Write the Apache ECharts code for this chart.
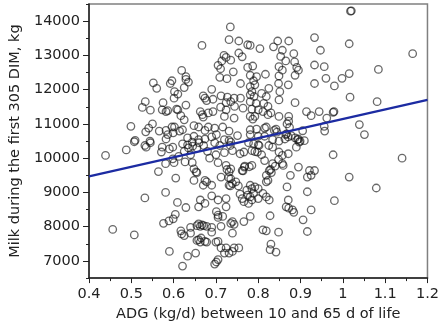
<!DOCTYPE html>
<html><head><meta charset="utf-8">
<script src="https://cdn.jsdelivr.net/npm/echarts@6/dist/echarts.min.js"></script>
<style>html,body{margin:0;padding:0;background:#fff}#c{width:442px;height:327px}</style>
</head><body><div id="c"></div>
<script>
// ADG (kg/d) values and Milk (kg) values
const adg = [
0.439,0.456,0.507,0.532,0.564,0.488,0.507,0.499,0.534,0.541,0.550,0.532,0.545,0.526,0.533,0.545,0.552,0.560,0.592,0.596,
0.601,0.575,0.573,0.582,0.586,0.607,0.566,0.582,0.586,0.596,0.599,0.509,0.544,0.582,0.535,0.573,0.571,0.590,0.598,0.581,
0.601,0.581,0.605,0.609,0.576,0.589,0.599,0.604,0.590,0.619,0.629,0.635,0.625,0.610,0.629,
0.734,0.667,0.731,0.754,0.775,0.719,0.724,0.714,0.705,0.711,0.735,0.754,0.762,0.741,0.709,0.726,0.775,0.787,0.758,0.629,
0.602,0.610,0.617,0.625,0.690,0.670,0.674,0.678,0.693,0.712,0.727,0.743,0.758,0.781,0.724,0.735,0.711,0.724,0.744,0.764,
0.785,0.663,0.668,0.682,0.693,0.670,0.720,0.743,0.781,0.787,0.648,0.659,0.674,0.682,0.697,0.716,0.701,0.602,0.614,0.621,
0.633,0.648,0.659,0.674,0.690,0.731,0.751,0.781,0.720,0.731,
0.933,0.947,0.846,0.872,0.836,0.857,0.853,0.884,0.804,0.781,0.865,0.886,0.849,0.857,0.891,0.895,0.887,0.933,0.956,0.960,
0.933,0.817,0.796,0.781,0.789,0.792,0.849,0.848,0.871,0.851,0.849,0.825,0.808,0.819,0.813,0.823,0.781,0.785,0.790,0.781,
0.795,0.800,0.811,0.823,0.830,0.792,0.887,0.849,0.872,0.872,0.868,0.914,0.925,0.944,0.962,0.796,0.815,0.819,0.838,0.842,
0.781,0.800,0.815,0.865,0.871,0.887,0.893,0.899,0.956,0.957,0.834,0.849,
1.018,1.020,1.015,1.165,1.084,1.015,0.998,0.980,1.017,1.081,0.979,0.977,1.039,1.051,0.977,1.140,1.015,1.079,0.980,
0.621,0.633,0.644,0.671,0.697,0.709,0.735,0.777,0.598,0.627,0.644,0.648,0.653,0.648,0.705,0.720,0.739,0.766,0.785,0.724,
0.726,0.731,0.735,0.762,0.767,0.712,0.735,0.739,0.731,0.747,0.674,0.670,0.690,0.678,0.773,0.785,0.762,0.775,0.785,0.777,
0.766,0.690,0.705,0.724,0.663,0.674,0.629,0.659,0.724,0.701,0.705,0.705,0.716,0.781,0.766,0.739,0.735,0.743,0.712,0.690,
0.671,0.663,0.655,0.640,0.617,0.640,0.739,0.625,0.674,0.659,0.665,0.705,0.712,0.724,0.731,0.743,0.754,0.739,0.720,0.652,
0.633,0.701,0.697,0.705,0.621,
0.789,0.800,0.792,0.808,0.815,0.834,0.849,0.857,0.848,0.857,0.834,0.826,0.819,0.823,0.819,0.785,0.895,0.876,0.921,0.933,
0.925,0.916,0.781,0.792,0.800,0.789,0.781,0.800,0.811,0.819,0.826,0.868,0.916,0.871,0.866,0.872,0.881,0.884,0.925,0.828,
0.906,0.916,0.811,0.819,0.848,0.830,0.828,0.842,
0.730,0.734,0.753,0.757,0.831,0.829,0.840,0.859,0.768,0.779,0.764,
0.655,0.619,0.659,0.667,0.678,0.690,0.655,0.663,0.678,0.700,
0.905,0.895,0.909,0.874,0.878,0.867,0.863,0.844,0.825,0.802,0.798,0.757,0.734,0.871,0.890,0.897,
0.635,0.645,0.655,0.660,0.625,0.612,0.640,0.680,0.700,0.685
];
const milk = [
10080,7920,7760,8840,9610,10240,10480,10930,10770,10880,11000,10370,10450,11480,11650,11400,12200,12040,12180,12260,
11750,11620,11410,11360,11390,11430,10790,10810,10690,10910,10740,10520,10500,10560,10320,10320,10180,10270,10320,9840,
9870,9000,9420,8710,8100,8170,8230,8360,7280,12560,12380,12220,12060,11870,11550,
13830,13290,13460,13420,13310,13000,12940,12840,12710,12610,12860,13070,12960,12520,12360,12320,12650,12690,12180,12300,
11940,11410,11240,11120,12010,11820,11750,11680,11720,11820,11780,11750,11750,11850,11620,11650,11490,11410,11510,11460,
11430,11360,11270,11320,11360,11200,11220,11170,11220,11140,10950,10910,10810,10910,10880,10910,10690,10910,10790,10830,
10590,10640,10540,10560,10620,10790,10660,10830,10540,10520,
13520,13150,13420,13420,13250,13150,12970,13050,13200,13290,12840,12810,12670,12570,12650,12570,12420,12720,12670,12330,
12180,12450,12380,12420,12260,12140,12400,12180,12140,11940,11700,12040,11890,11800,11600,11510,12090,11940,11800,11650,
11600,11410,11360,11270,11320,11220,11620,11220,11220,11080,11000,11360,11240,11360,11170,10850,10880,10910,10810,10850,
10690,10640,10640,10690,10620,10590,10540,10500,10930,10790,10540,10500,
14290,14300,13340,13050,12590,12470,12330,12110,11780,11650,11360,11340,10980,10690,10100,10000,9450,9130,8760,
10420,10390,10470,10370,10450,10370,10470,10450,9980,9890,9870,9690,9600,9350,9870,10160,10220,10180,10220,9790,
9670,9600,9690,9640,9740,9450,9400,9260,9210,9310,9350,9210,9210,9310,9070,9110,8820,8920,8780,8680,
8730,8900,8780,8820,8780,8680,8560,8580,8580,8440,8340,8270,8300,8300,8150,8150,8100,8070,8010,7980,
8030,8010,8030,7980,7880,7810,7810,7740,7570,7620,7670,7570,7380,7380,7230,7380,7380,7280,7230,7230,
7140,6970,6910,7040,6850,
10420,10390,10190,10100,9930,10320,10180,10080,9960,9840,9840,9640,9500,9350,9310,9790,9740,9500,9640,9640,
9500,9450,9210,9160,9110,8970,8870,8820,8970,8870,8780,9160,9020,8780,8580,8540,8490,8420,8490,8320,
8200,7860,7910,7880,7840,7490,7330,7260,
9430,9190,9190,8950,9580,9670,9770,9790,9770,9750,9630,
9580,7790,8080,8050,8010,7840,7600,7550,7550,7550,
10800,10560,10510,10900,10660,10710,10560,10760,10370,10370,10180,10130,10370,10130,10320,10470,
10300,10350,10300,10450,10200,10050,10100,10200,10100,10000
];
// regression line end points
const fitX = [0.4, 1.2];
const fitY = [9470, 11700];
const xTicks = [0.4,0.5,0.6,0.7,0.8,0.9,1,1.1,1.2];
const yTicks = [7000,8000,9000,10000,11000,12000,13000,14000];

const pts = adg.map((x,i)=>[x, milk[i]]);
const fit = fitX.map((x,i)=>[x, fitY[i]]);
const FONT = '"DejaVu Sans", Verdana, sans-serif';
const chart = echarts.init(document.getElementById('c'), null, {renderer:'canvas'});
chart.setOption({
  animation:false,
  backgroundColor:'#fff',
  grid:{left:78, right:13, top:4, bottom:46, show:true, borderColor:'#808080', borderWidth:1.5, containLabel:false},
  xAxis:{
    type:'value', min:0.4, max:1.2, interval:0.1,
    name:'ADG (kg/d) between 10 and 65 d of life', nameLocation:'middle', nameGap:27,
    nameTextStyle:{fontFamily:FONT, fontSize:14.5, color:'#222'},
    axisLine:{show:true, onZero:false, lineStyle:{color:'#222', width:1.5}},
    axisTick:{show:true, inside:false, length:5, lineStyle:{color:'#222'}},
    minorTick:{show:true, splitNumber:2, length:3, lineStyle:{color:'#222'}},
    splitLine:{show:false},
    axisLabel:{fontFamily:FONT, fontSize:14.5, color:'#222', margin:9,
      customValues: xTicks, formatter:v=>String(Math.round(v*10)/10)}
  },
  yAxis:[{
    type:'value', min:6500, max:14500, interval:500,
    name:'Milk during the first 305 DIM, kg', nameLocation:'middle', nameGap:59, nameRotate:90,
    nameTextStyle:{fontFamily:FONT, fontSize:14.5, color:'#222'},
    axisLine:{show:true, onZero:false, lineStyle:{color:'#222', width:1.5}},
    axisTick:{show:true, inside:false, length:3, lineStyle:{color:'#222'}},
    splitLine:{show:false},
    axisLabel:{fontFamily:FONT, fontSize:14.5, color:'#222', margin:9, customValues: yTicks,
      formatter:v=>String(Math.round(v))}
  },{
    type:'value', min:6500, max:14500, position:'left',
    axisLine:{show:false},
    axisTick:{show:true, inside:false, length:6, customValues: yTicks, lineStyle:{color:'#222'}},
    splitLine:{show:false},
    axisLabel:{show:false}
  }],
  series:[{
    type:'scatter', data:pts, symbol:'circle', symbolSize:7.5,
    itemStyle:{color:'rgba(0,0,0,0)', borderColor:'rgba(20,20,20,0.8)', borderWidth:1.3},
    z:2
  },{
    type:'line', data:fit, symbol:'none', lineStyle:{color:'#1c2ba2', width:2.2}, z:3
  }]
});
</script></body></html>
